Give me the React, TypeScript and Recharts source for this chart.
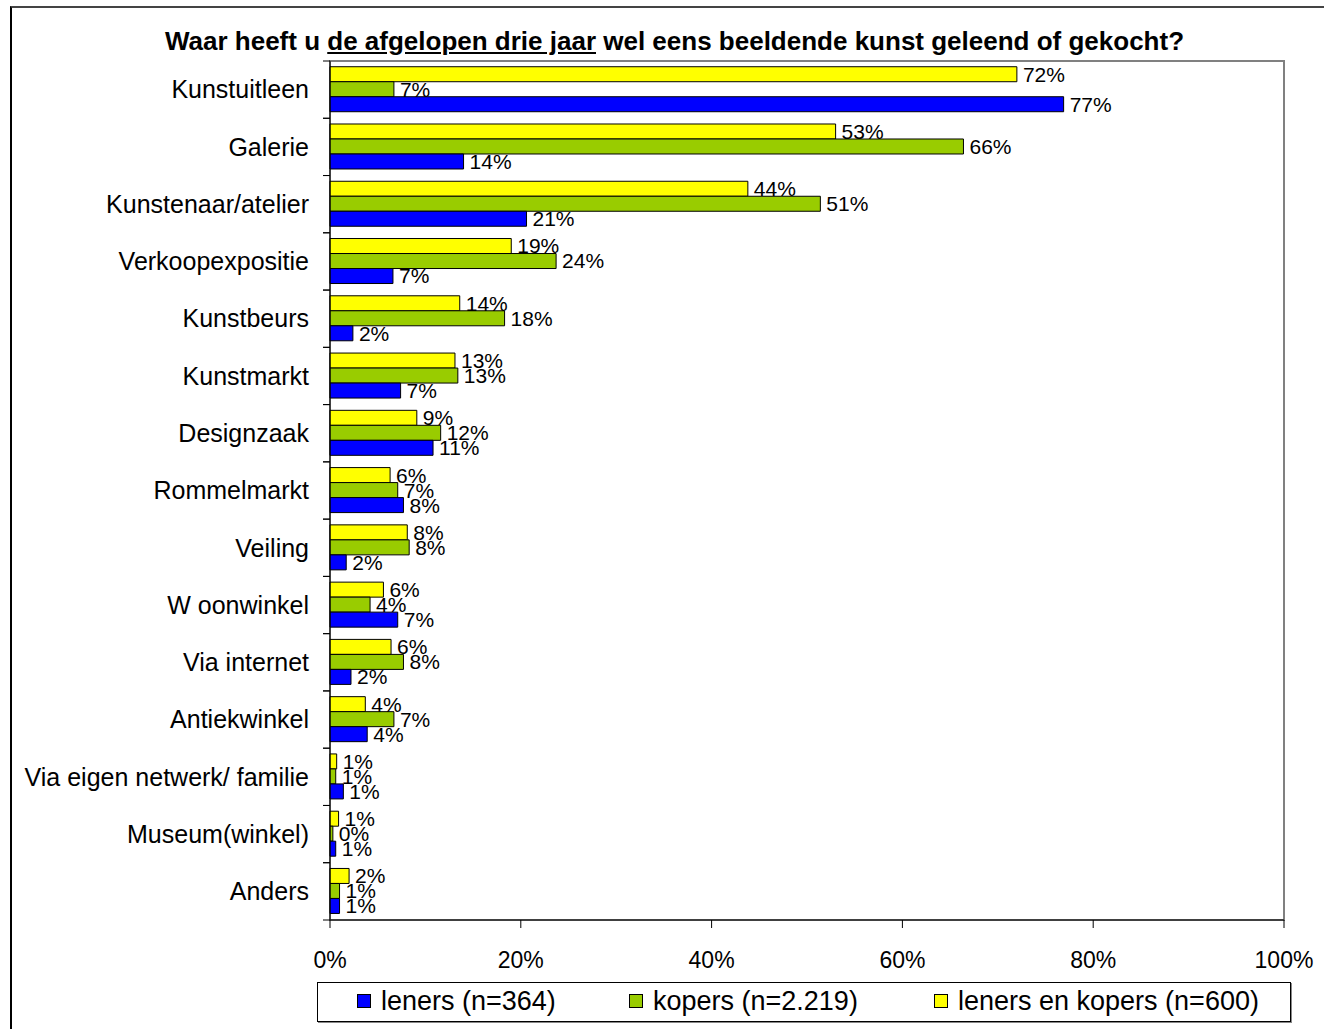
import { BarChart, Bar, XAxis, YAxis, LabelList, ReferenceArea } from "recharts";

const categories = [
  "Kunstuitleen",
  "Galerie",
  "Kunstenaar/atelier",
  "Verkoopexpositie",
  "Kunstbeurs",
  "Kunstmarkt",
  "Designzaak",
  "Rommelmarkt",
  "Veiling",
  "W oonwinkel",
  "Via internet",
  "Antiekwinkel",
  "Via eigen netwerk/ familie",
  "Museum(winkel)",
  "Anders",
];

// leners (n=364)
const leners = [76.9, 14.0, 20.6, 6.6, 2.4, 7.4, 10.8, 7.7, 1.7, 7.1, 2.2, 3.9, 1.4, 0.6, 1.0];
// kopers (n=2.219)
const kopers = [6.7, 66.4, 51.4, 23.7, 18.3, 13.4, 11.6, 7.1, 8.3, 4.2, 7.7, 6.7, 0.6, 0.3, 1.0];
// leners en kopers (n=600)
const beide = [72.0, 53.0, 43.8, 19.0, 13.6, 13.1, 9.1, 6.3, 8.1, 5.6, 6.4, 3.7, 0.7, 0.9, 2.0];

const xTicks = [0, 20, 40, 60, 80, 100];

const FONT = "'Liberation Sans', Arial, sans-serif";
const BLUE = "#0000FF";
const GREEN = "#99CC00";
const YELLOW = "#FFFF00";

const W = 1324;
const H = 1029;
const AXIS_X = 330;
const PLOT_TOP = 61;
const PLOT_BOTTOM = 920;
const BAND = (PLOT_BOTTOM - PLOT_TOP) / categories.length;

const data = categories.map((name, i) => ({
  name,
  leners: leners[i],
  kopers: kopers[i],
  beide: beide[i],
}));

const pct = (v: any) => `${Math.round(Number(v))}%`;

function CategoryTick(props: any) {
  const { y, payload } = props;
  return (
    <g>
      <text
        x={AXIS_X - 21}
        y={y}
        dy="0.35em"
        textAnchor="end"
        fontSize={25}
        fontFamily={FONT}
        fill="#000"
      >
        {payload.value}
      </text>
      <line x1={AXIS_X - 7} x2={AXIS_X} y1={y - BAND / 2} y2={y - BAND / 2} stroke="#000" />
      <line x1={AXIS_X - 7} x2={AXIS_X} y1={y + BAND / 2} y2={y + BAND / 2} stroke="#000" />
    </g>
  );
}

const legendItems = [
  { label: "leners (n=364)", color: BLUE, left: 357 },
  { label: "kopers (n=2.219)", color: GREEN, left: 629 },
  { label: "leners en kopers (n=600)", color: YELLOW, left: 934 },
];

export default function App() {
  const labelStyle = { fontSize: 21, fontFamily: FONT, fill: "#000" };
  return (
    <div style={{ position: "absolute", left: 0, top: 0, width: W, height: H, background: "#fff", overflow: "hidden" }}>
      {/* outer frame */}
      <div
        style={{
          position: "absolute",
          left: 10,
          top: 6,
          width: W,
          height: H,
          borderTop: "2px solid #444",
          borderLeft: "2px solid #000",
        }}
      />
      <div
        style={{
          position: "absolute",
          left: 0,
          width: 1349,
          top: 26,
          textAlign: "center",
          fontFamily: FONT,
          fontWeight: "bold",
          fontSize: 26,
          lineHeight: "30px",
          color: "#000",
        }}
      >
        Waar heeft u <u>de afgelopen drie jaar</u> wel eens beeldende kunst geleend of gekocht?
      </div>
      <div style={{ position: "absolute", left: 0, top: 0 }}>
        <BarChart
          width={W}
          height={H}
          data={data}
          layout="vertical"
          margin={{ top: PLOT_TOP, right: W - 1284, bottom: H - PLOT_BOTTOM - 50, left: 0 }}
          barCategoryGap="10%"
          barGap={0}
        >
          <ReferenceArea x1={0} x2={100} stroke="#808080" strokeWidth={2} fill="none" fillOpacity={0} />
          <XAxis
            type="number"
            domain={[0, 100]}
            ticks={xTicks}
            tickFormatter={(v) => `${v}%`}
            height={50}
            tickSize={8}
            tickMargin={24}
            axisLine={{ stroke: "#000" }}
            tickLine={{ stroke: "#000" }}
            tick={{ fontSize: 23, fontFamily: FONT, fill: "#000" }}
          />
          <YAxis
            type="category"
            dataKey="name"
            width={AXIS_X}
            axisLine={{ stroke: "#000" }}
            tickLine={false}
            tick={<CategoryTick />}
            interval={0}
          />
          <Bar dataKey="beide" fill={YELLOW} stroke="#000" strokeWidth={1} isAnimationActive={false}>
            <LabelList dataKey="beide" position="right" offset={6} formatter={pct} style={labelStyle} />
          </Bar>
          <Bar dataKey="kopers" fill={GREEN} stroke="#000" strokeWidth={1} isAnimationActive={false}>
            <LabelList dataKey="kopers" position="right" offset={6} formatter={pct} style={labelStyle} />
          </Bar>
          <Bar dataKey="leners" fill={BLUE} stroke="#000" strokeWidth={1} isAnimationActive={false}>
            <LabelList dataKey="leners" position="right" offset={6} formatter={pct} style={labelStyle} />
          </Bar>
        </BarChart>
      </div>
      {/* legend */}
      <div
        style={{
          position: "absolute",
          left: 317,
          top: 982,
          width: 972,
          height: 38,
          border: "1px solid #000",
          boxShadow: "1px 1px 0 #888",
          fontFamily: FONT,
          fontSize: 27,
          color: "#000",
        }}
      >
        {legendItems.map((it) => (
          <div key={it.label} style={{ position: "absolute", left: it.left - 318, top: 2, display: "flex", alignItems: "center", height: 32 }}>
            <span
              style={{
                display: "inline-block",
                width: 12,
                height: 12,
                background: it.color,
                border: "1px solid #000",
                marginRight: 10,
              }}
            />
            <span>{it.label}</span>
          </div>
        ))}
      </div>
    </div>
  );
}
